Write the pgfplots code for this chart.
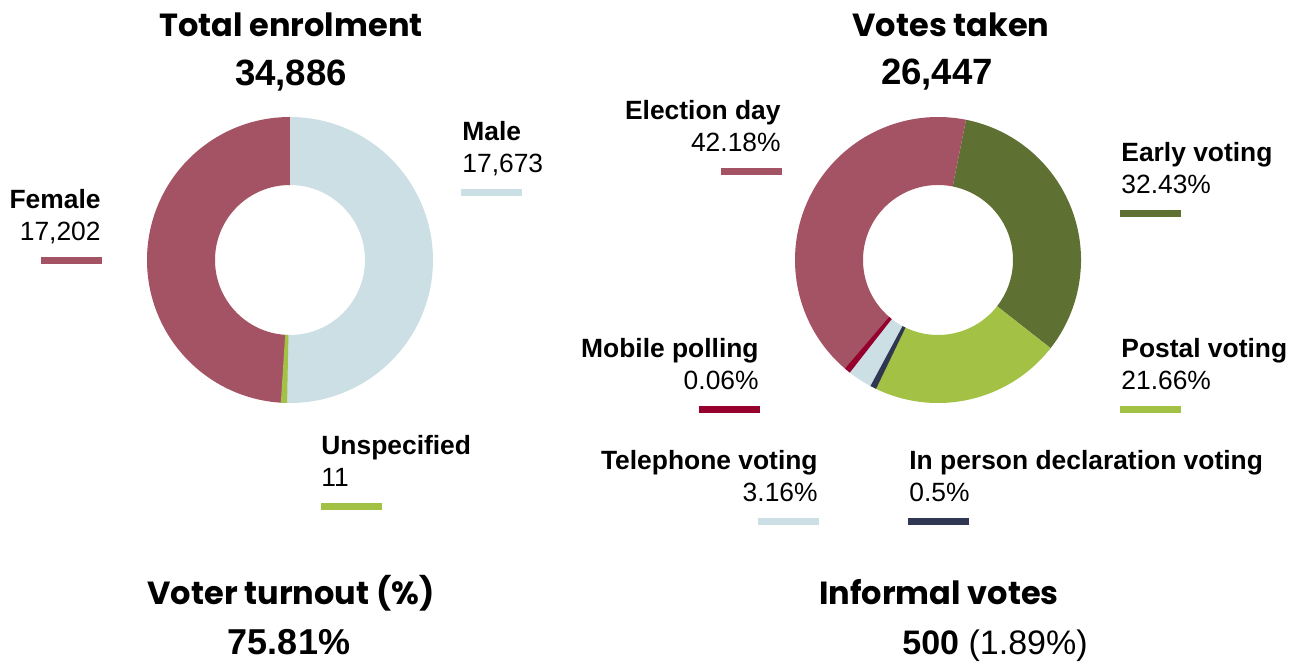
\documentclass[border=0pt]{standalone}
\usepackage{pgfplots}
\pgfplotsset{compat=1.18}
\usepackage{pgfplotstable}
\usepackage{fontspec}
\setmainfont{Liberation Sans}
\newfontfamily\titlefont{Poppins}

\definecolor{cfem}{HTML}{A35363}
\definecolor{cblue}{HTML}{CCDFE5}
\definecolor{cgreen}{HTML}{A2C145}
\definecolor{cdark}{HTML}{5E7032}
\definecolor{cmob}{HTML}{95002C}
\definecolor{cnavy}{HTML}{2F3752}

% enrolment by gender
\pgfplotstableread{
name value col
Female 17202 cfem
Unspecified 11 cgreen
Male 17673 cblue
}\enroltable

% votes taken by type (%)
\pgfplotstableread{
name value col
Early 32.43 cdark
Postal 21.66 cgreen
Inperson 0.5 cnavy
Telephone 3.16 cblue
Mobile 0.06 cmob
Election 42.18 cfem
}\votetable

% big numbers need the fpu
\newcommand\fpueval[2]{\begingroup\pgfkeys{/pgf/fpu=true,/pgf/fpu/output format=fixed}\pgfmathparse{#2}\xdef#1{\pgfmathresult}\endgroup}

% #1 table, #2 cx, #3 cy, #4 start angle, #5 direction (1 ccw, -1 cw), #6 pass (0 big, 1 tiny)
\newcommand\donutpass[6]{%
  \pgfplotstablegetrowsof{#1}\pgfmathtruncatemacro\nrows{\pgfplotsretval-1}%
  \gdef\tot{0}%
  \pgfplotsforeachungrouped \i in {0,...,\nrows}{%
    \pgfplotstablegetelem{\i}{value}\of{#1}%
    \fpueval\tot{\tot+\pgfplotsretval}%
  }%
  \def\cur{#4}%
  \pgfplotsforeachungrouped \i in {0,...,\nrows}{%
    \pgfplotstablegetelem{\i}{value}\of{#1}\let\sv\pgfplotsretval
    \pgfplotstablegetelem{\i}{col}\of{#1}\let\sc\pgfplotsretval
    \fpueval\ang{#5*\sv/\tot*360}%
    \pgfmathsetmacro\nxt{\cur+\ang}%
    \pgfmathsetmacro\md{(\cur+\nxt)/2}%
    \pgfmathtruncatemacro\istiny{abs(\ang)<2.5 ? 1 : 0}%
    \pgfmathsetmacro\sa{\istiny==1 ? \md-1.25 : \cur}%
    \pgfmathsetmacro\sb{\istiny==1 ? \md+1.25 : \nxt}%
    \ifnum\istiny=#6\relax
      \edef\tmp{\noexpand\fill[\sc] ([shift={(\sa:71.5pt)}]axis cs:#2,#3)
        arc[start angle=\sa, end angle=\sb, radius=71.5pt]
        -- ([shift={(\sb:37.5pt)}]axis cs:#2,#3)
        arc[start angle=\sb, end angle=\sa, radius=37.5pt] -- cycle;}%
      \tmp
    \fi
    \let\cur\nxt
  }%
}
\newcommand\donut[5]{\donutpass{#1}{#2}{#3}{#4}{#5}{0}\donutpass{#1}{#2}{#3}{#4}{#5}{1}}

% #1 text x, #2 baseline y, #3 side, #4 bar left x, #5 name, #6 value, #7 colour
\newcommand\leglab[7]{%
  \pgfmathsetmacro\yv{#2+32}\pgfmathsetmacro\yb{#2+48}\pgfmathsetmacro\yc{#2+55.5}%
  \pgfmathsetmacro\xr{#4+61}%
  \edef\tmp{%
  \noexpand\node[anchor=base #3, inner sep=0pt, font=\noexpand\bfseries\noexpand\fontsize{13.2}{15}\noexpand\selectfont] at (axis cs:#1,#2) {#5};
  \noexpand\node[anchor=base #3, inner sep=0pt, font=\noexpand\fontsize{13.2}{15}\noexpand\selectfont] at (axis cs:#1,\yv) {#6};
  \noexpand\fill[#7] (axis cs:#4,\yb) rectangle (axis cs:\xr,\yc);}%
  \tmp
}

\begin{document}
\begin{tikzpicture}
\begin{axis}[
    hide axis,
    x=0.5pt, y=0.5pt,
    xmin=0, xmax=1298, ymin=0, ymax=662,
    y dir=reverse,
    clip=false,
]
\path (axis cs:0,0) rectangle (axis cs:1298,662);

% titles
\node[anchor=base, inner sep=0pt, font=\titlefont\bfseries\fontsize{16}{18}\selectfont] at (axis cs:291,37) {Total enrolment};
\node[anchor=base, inner sep=0pt, font=\bfseries\fontsize{18.3}{20}\selectfont] at (axis cs:291,86) {34,886};
\node[anchor=base, inner sep=0pt, font=\titlefont\bfseries\fontsize{16}{18}\selectfont] at (axis cs:951,37) {Votes taken};
\node[anchor=base, inner sep=0pt, font=\bfseries\fontsize{18.3}{20}\selectfont] at (axis cs:937,85) {26,447};

% donuts
\donut{\enroltable}{290}{260}{90}{1}
\donut{\votetable}{938}{260}{78.7}{-1}

% labels
\leglab{101}{209}{east}{41}{Female}{17,202}{cfem}
\leglab{462}{141}{west}{461}{Male}{17,673}{cblue}
\leglab{321}{455}{west}{321}{Unspecified}{11}{cgreen}
\leglab{781}{120}{east}{721}{Election day}{42.18\%}{cfem}
\leglab{1121}{162}{west}{1120}{Early voting}{32.43\%}{cdark}
\leglab{759}{358}{east}{699}{Mobile polling}{0.06\%}{cmob}
\leglab{1121}{358}{west}{1120}{Postal voting}{21.66\%}{cgreen}
\leglab{818}{470}{east}{758}{Telephone voting}{3.16\%}{cblue}
\leglab{909}{470}{west}{908}{In person declaration voting}{0.5\%}{cnavy}

% bottom figures
\node[anchor=base, inner sep=0pt, font=\titlefont\bfseries\fontsize{16}{18}\selectfont] at (axis cs:291,605) {Voter turnout (\%)};
\node[anchor=base, inner sep=0pt, font=\bfseries\fontsize{18}{20}\selectfont] at (axis cs:289,655) {75.81\%};
\node[anchor=base, inner sep=0pt, font=\titlefont\bfseries\fontsize{16}{18}\selectfont] at (axis cs:939,605) {Informal votes};
\node[anchor=base west, inner sep=0pt, font=\fontsize{17}{19}\selectfont] at (axis cs:902,655) {\textbf{500} (1.89\%)};
\end{axis}
\end{tikzpicture}
\end{document}
